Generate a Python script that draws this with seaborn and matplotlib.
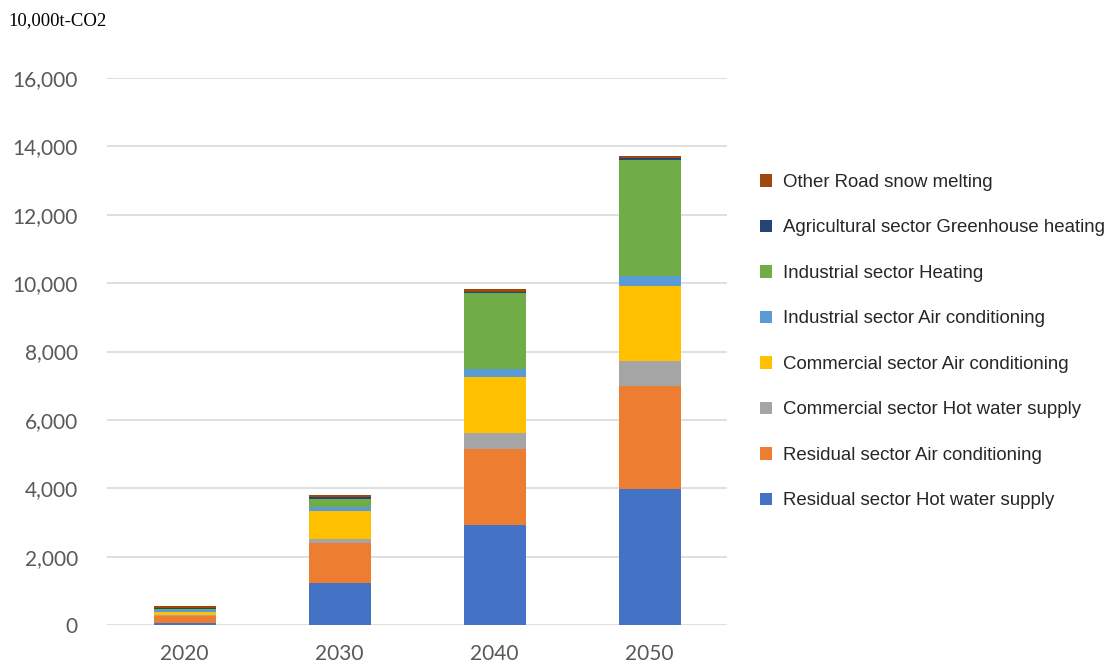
import matplotlib
matplotlib.use("Agg")
import matplotlib.pyplot as plt
from matplotlib.patches import Patch
import numpy as np
import pandas as pd
import seaborn as sns

years = ["2020", "2030", "2040", "2050"]

series_names = [
    "Residual sector Hot water supply",
    "Residual sector Air conditioning",
    "Commercial sector Hot water supply",
    "Commercial sector Air conditioning",
    "Industrial sector Air conditioning",
    "Industrial sector Heating",
    "Agricultural sector Greenhouse heating",
    "Other Road snow melting",
]

res_hot_water = [50, 1240, 2930, 3980]
res_air_cond = [215, 1160, 2210, 3020]
com_hot_water = [20, 110, 470, 715]
com_air_cond = [100, 825, 1640, 2210]
ind_air_cond = [50, 108, 235, 293]
ind_heating = [30, 243, 2220, 3385]
agr_greenhouse = [20, 68, 50, 58]
oth_snow = [65, 50, 70, 58]

series_values = [
    res_hot_water, res_air_cond, com_hot_water, com_air_cond,
    ind_air_cond, ind_heating, agr_greenhouse, oth_snow,
]

colors = ["#4472C4", "#ED7D31", "#A5A5A5", "#FFC000",
          "#5B9BD5", "#70AD47", "#264478", "#9E480E"]

sns.set_theme(style="white")

fig = plt.figure(figsize=(11.1, 6.66), dpi=100)
ax = fig.add_axes([107 / 1110, 1 - 625 / 666, 620 / 1110, (625 - 78) / 666])

bottom = np.zeros(len(years))
for name, vals, col in zip(series_names, series_values, colors):
    df = pd.DataFrame({"year": years, "value": vals})
    sns.barplot(data=df, x="year", y="value", color=col, width=0.4,
                bottom=bottom, ax=ax, saturation=1, linewidth=0)
    bottom = bottom + np.array(vals)

ax.set_ylim(0, 16000)
ax.set_xlim(-0.5, 3.5)
ax.set_yticks(np.arange(0, 16001, 2000))
ax.set_yticklabels([f"{v:,}" for v in range(0, 16001, 2000)])
ax.yaxis.grid(True, color="#D9D9D9", linewidth=1.2)
ax.set_axisbelow(True)
for s in ax.spines.values():
    s.set_visible(False)
ax.set_xlabel("")
ax.set_ylabel("")
ax.tick_params(axis="both", length=0, labelsize=15, colors="#595959")
ax.tick_params(axis="y", pad=21)
ax.tick_params(axis="x", pad=14)
for lbl in ax.get_xticklabels() + ax.get_yticklabels():
    lbl.set_fontfamily("Lato")

fig.text(8 / 1110, 1 - 21 / 666, "10,000t-CO2", fontfamily="Liberation Serif",
         fontsize=13.5, color="black", va="center", ha="left")

handles = [Patch(facecolor=c, edgecolor="none") for c in colors][::-1]
labels = series_names[::-1]
fig.legend(handles, labels, loc="upper left",
           bbox_to_anchor=(760 / 1110, 1 - 174 / 666),
           frameon=False, prop={"family": "Liberation Sans", "size": 13.4},
           handlelength=0.65, handleheight=0.65, handletextpad=0.6,
           labelspacing=1.53, borderaxespad=0, borderpad=0)

fig.savefig("out.png", dpi=100)
